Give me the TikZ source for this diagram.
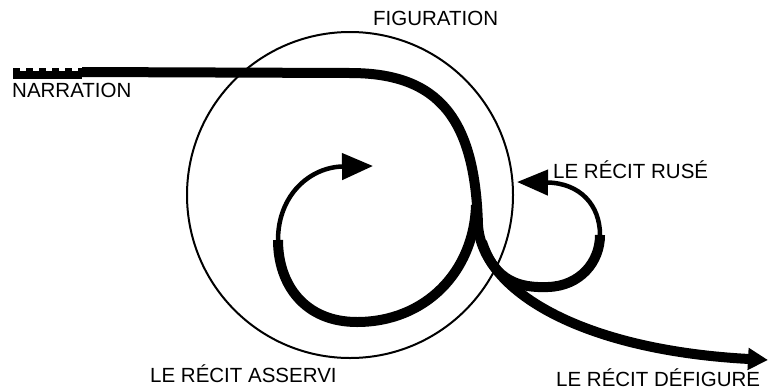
\documentclass[tikz,border=0pt]{standalone}
\usepackage{fontspec}
\setmainfont{Liberation Sans}
\usetikzlibrary{arrows.meta}
\tikzset{
  every picture/.style={line join=round, x=1pt, y=-1pt},
  strand/.style={line width=10pt},
  fine strand/.style={line width=4.5pt},
  ring/.style={line width=2pt},
  word/.style={font=\fontsize{20.5}{24}\selectfont, inner sep=0pt, anchor=base west},
}

\begin{document}
\begin{tikzpicture}
\useasboundingbox (0,0) rectangle (770,391);
% the figuration ring
\draw[ring] (350,195) circle[radius=163pt];
% points on the strands
\coordinate (start) at (13,72);
\coordinate (bend) at (82,72);
\coordinate (under start) at (13,75);
\coordinate (under bend) at (82,75);
\coordinate (turn) at (350,73);
\coordinate (fork) at (478,225);
\coordinate (inner fork) at (476,205);
\coordinate (inner low) at (357,322);
\coordinate (inner left) at (278,240);
\coordinate (inner tip) at (373,166);
\coordinate (ruse fork) at (482,242);
\coordinate (ruse low) at (548,287);
\coordinate (ruse right) at (600,235);
\coordinate (ruse tip) at (517,182);
\coordinate (end tip) at (768,360);
% narration, dotted at its start
\draw[line width=8pt, dash pattern=on 7pt off 6pt] (start) -- (bend);
\draw[line width=8pt] (under start) -- (under bend);
\draw[strand, -{Triangle[length=20pt,width=21pt]}] (bend) -- (turn)
  .. controls (440,73) and (475,120) .. (fork)
  .. controls (482,290) and (580,350) .. (end tip);
% le recit asservi
\draw[strand] (inner fork) .. controls (474,272) and (425,322) .. (inner low)
  .. controls (305,322) and (278,285) .. (inner left);
\draw[fine strand, -{Triangle[length=31pt,width=26pt]}] (inner left)
  .. controls (278,195) and (310,167) .. (inner tip);
% le recit ruse
\draw[strand] (ruse fork) .. controls (495,282) and (520,288) .. (ruse low)
  .. controls (580,286) and (600,262) .. (ruse right);
\draw[fine strand, -{Triangle[length=31pt,width=25pt]}] (ruse right)
  .. controls (600,205) and (580,183) .. (ruse tip);
% labels
\node[word] (narration) at (12,97) {NARRATION};
\node[word] (figuration) at (373,25) {FIGURATION};
\node[word] (ruse) at (553,178) {LE RÉCIT RUSÉ};
\node[word] (asservi) at (150,382) {LE RÉCIT ASSERVI};
\node[word] (defigure) at (556,386) {LE RÉCIT DÉFIGURE};
\end{tikzpicture}
\end{document}
